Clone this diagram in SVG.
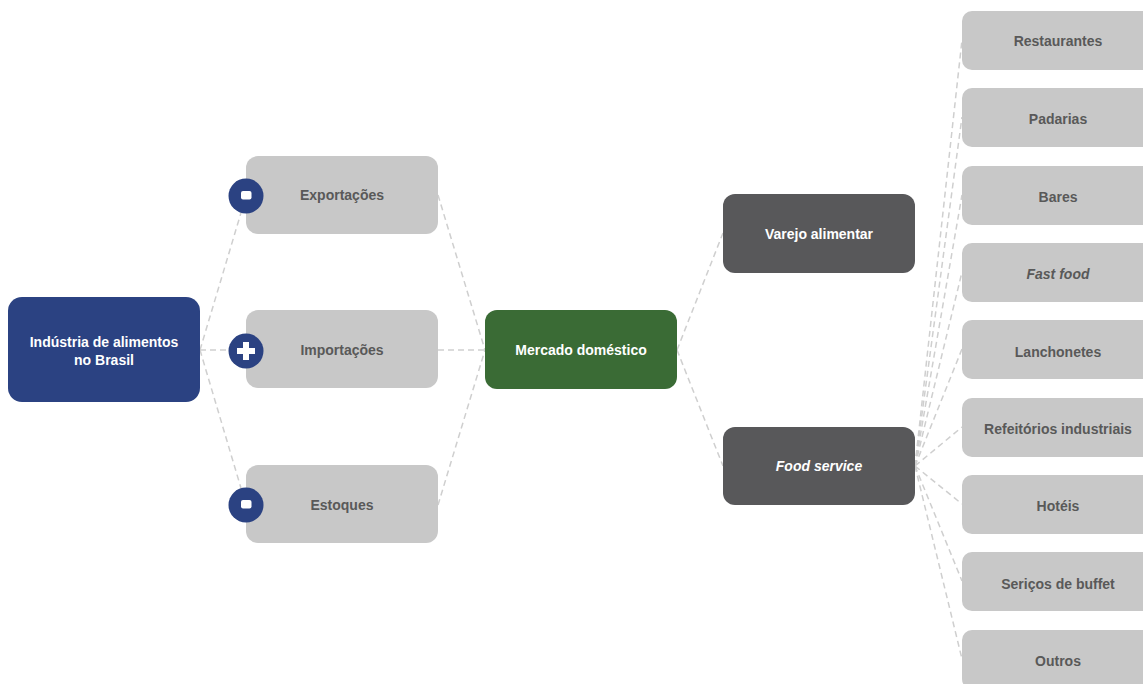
<svg xmlns="http://www.w3.org/2000/svg" width="1143" height="684" viewBox="0 0 1143 684">
<style>
.t{font-family:"Liberation Sans",Arial,sans-serif;font-weight:bold;font-size:14px;text-anchor:middle;dominant-baseline:central}
.w{fill:#ffffff}
.g{fill:#595959}
.i{font-style:italic}
.lb{fill:#C8C8C8}
.c{stroke:#CFCFCF;stroke-width:1.5;stroke-dasharray:6 4;fill:none}
.sign{fill:#2B4282}
</style>
<rect width="1143" height="684" fill="#ffffff"/>
<g id="connectors">
<path class="c" d="M200,350 L246,196"/>
<path class="c" d="M200,350 L246,350"/>
<path class="c" d="M200,350 L246,505"/>
<path class="c" d="M438,195 L485,350"/>
<path class="c" d="M438,350 L485,350"/>
<path class="c" d="M438,505 L485,350"/>
<path class="c" d="M677,350 L723,233"/>
<path class="c" d="M677,350 L723,466"/>
<path class="c" d="M915,466 L962,40"/>
<path class="c" d="M915,466 L962,117"/>
<path class="c" d="M915,466 L962,195"/>
<path class="c" d="M915,466 L962,272"/>
<path class="c" d="M915,466 L962,349"/>
<path class="c" d="M915,466 L962,427"/>
<path class="c" d="M915,466 L962,504"/>
<path class="c" d="M915,466 L962,581"/>
<path class="c" d="M915,466 L962,659"/>
</g>
<g id="industria">
<rect x="8" y="297" width="192" height="105" rx="14" fill="#2B4282"/>
<text class="t w" x="104" y="342">Indústria de alimentos</text>
<text class="t w" x="104" y="360">no Brasil</text>
</g>
<g id="exportacoes">
<rect class="lb" x="246" y="156" width="192" height="78" rx="12"/>
<text class="t g" x="342" y="195">Exportações</text>
<circle class="sign" cx="246" cy="196" r="17.5"/>
<rect x="241" y="191" width="10.5" height="8.5" rx="2" fill="#ffffff"/>
</g>
<g id="importacoes">
<rect class="lb" x="246" y="310" width="192" height="78" rx="12"/>
<text class="t g" x="342" y="350">Importações</text>
<circle class="sign" cx="246" cy="351" r="17.5"/>
<rect x="237" y="348" width="18" height="6" fill="#ffffff"/>
<rect x="243" y="342" width="6" height="18" fill="#ffffff"/>
</g>
<g id="estoques">
<rect class="lb" x="246" y="465" width="192" height="78" rx="12"/>
<text class="t g" x="342" y="505">Estoques</text>
<circle class="sign" cx="246" cy="505" r="17.5"/>
<rect x="241" y="500" width="10.5" height="8.5" rx="2" fill="#ffffff"/>
</g>
<g id="mercado">
<rect x="485" y="310" width="192" height="79" rx="12" fill="#3A6B35"/>
<text class="t w" x="581" y="350">Mercado doméstico</text>
</g>
<g id="varejo">
<rect x="723" y="194" width="192" height="79" rx="12" fill="#58585A"/>
<text class="t w" x="819" y="234">Varejo alimentar</text>
</g>
<g id="foodservice">
<rect x="723" y="427" width="192" height="78" rx="12" fill="#58585A"/>
<text class="t w i" x="819" y="466">Food service</text>
</g>
<g id="restaurantes">
<rect class="lb" x="962" y="11" width="192" height="59" rx="10"/>
<text class="t g" x="1058" y="41">Restaurantes</text>
</g>
<g id="padarias">
<rect class="lb" x="962" y="88" width="192" height="59" rx="10"/>
<text class="t g" x="1058" y="119">Padarias</text>
</g>
<g id="bares">
<rect class="lb" x="962" y="166" width="192" height="59" rx="10"/>
<text class="t g" x="1058" y="197">Bares</text>
</g>
<g id="fastfood">
<rect class="lb" x="962" y="243" width="192" height="59" rx="10"/>
<text class="t g i" x="1058" y="274">Fast food</text>
</g>
<g id="lanchonetes">
<rect class="lb" x="962" y="320" width="192" height="59" rx="10"/>
<text class="t g" x="1058" y="352">Lanchonetes</text>
</g>
<g id="refeitorios">
<rect class="lb" x="962" y="398" width="192" height="59" rx="10"/>
<text class="t g" x="1058" y="429">Refeitórios industriais</text>
</g>
<g id="hoteis">
<rect class="lb" x="962" y="475" width="192" height="59" rx="10"/>
<text class="t g" x="1058" y="506">Hotéis</text>
</g>
<g id="buffet">
<rect class="lb" x="962" y="552" width="192" height="59" rx="10"/>
<text class="t g" x="1058" y="584">Seriços de buffet</text>
</g>
<g id="outros">
<rect class="lb" x="962" y="630" width="192" height="59" rx="10"/>
<text class="t g" x="1058" y="661">Outros</text>
</g>
</svg>
